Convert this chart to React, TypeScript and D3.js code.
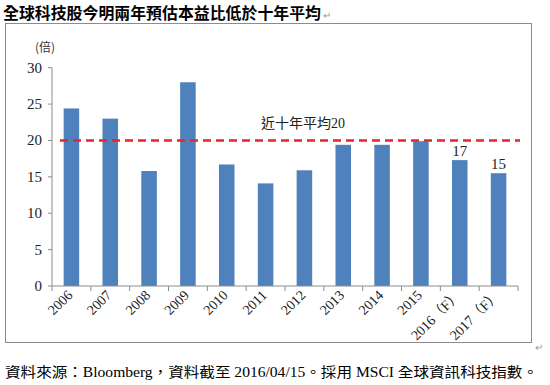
import * as d3 from "d3";

const years = ["2006", "2007", "2008", "2009", "2010", "2011", "2012", "2013", "2014", "2015", "2016（F）", "2017（F）"];
const peValues = [24.4, 23.0, 15.8, 28.0, 16.7, 14.1, 15.9, 19.4, 19.4, 19.9, 17.3, 15.5];
const yTicks = [0, 5, 10, 15, 20, 25, 30];
const avgValue = 20;
const barLabels = [{ year: "2016（F）", text: "17" }, { year: "2017（F）", text: "15" }];

const TITLE = "全球科技股今明兩年預估本益比低於十年平均";
const NOTE = "資料來源：Bloomberg，資料截至 2016/04/15。採用 MSCI 全球資訊科技指數。";

const W = 550, H = 385;
const M = { left: 52, right: 518, top: 67.7, bottom: 286 };
const serif = "'Liberation Serif', 'Noto Sans CJK TC', serif";
const cjk = "'Noto Sans CJK TC', sans-serif";

export default function App() {
  const x = d3.scaleBand().domain(years).range([M.left, M.right]).paddingInner(0.6).paddingOuter(0.3);
  const y = d3.scaleLinear().domain([0, 30]).range([M.bottom, M.top]);
  const bounds = d3.range(years.length + 1).map((i) => M.left + i * (M.right - M.left) / years.length);

  return (
    <svg width={W} height={H} style={{ position: "absolute", left: 0, top: 0 }}>
      <rect x={0} y={0} width={W} height={H} fill="#fff" />
      <text x={3} y={19} fontFamily={cjk} fontWeight="bold" fontSize={15.5} fill="#000" textLength={318} lengthAdjust="spacingAndGlyphs">{TITLE}</text>
      <text x={323} y={19} fontFamily={serif} fontSize={10} fill="#999">↵</text>
      <rect x={5.5} y={23.5} width={526} height={319} fill="none" stroke="#8c8c8c" />

      <text x={35} y={52} fontFamily={cjk} fontSize={12} fill="#333">(倍)</text>

      {/* y axis */}
      <line x1={M.left} x2={M.left} y1={y(30)} y2={y(0)} stroke="#8c8c8c" />
      {yTicks.map((t) => (
        <g key={t}>
          <line x1={M.left - 4} x2={M.left} y1={y(t)} y2={y(t)} stroke="#8c8c8c" />
          <text x={M.left - 10} y={y(t) + 5} textAnchor="end" fontFamily={serif} fontSize={15} fill="#222">{t}</text>
        </g>
      ))}

      {/* bars */}
      {years.map((yr, i) => (
        <rect key={yr} x={x(yr)!} width={x.bandwidth()} y={y(peValues[i])} height={y(0) - y(peValues[i])} fill="#4f81bd" />
      ))}

      {/* x axis */}
      <line x1={M.left} x2={M.right} y1={y(0)} y2={y(0)} stroke="#8c8c8c" />
      {bounds.map((b, i) => (
        <line key={i} x1={b} x2={b} y1={y(0)} y2={y(0) + 5} stroke="#8c8c8c" />
      ))}
      {years.map((yr) => {
        const cx = x(yr)! + x.bandwidth() / 2 + 2;
        return (
          <text key={yr} transform={`translate(${cx},${y(0) + 10}) rotate(-45)`} textAnchor="end" fontFamily={serif} fontSize={14} fill="#222">{yr}</text>
        );
      })}

      {/* average line */}
      <line x1={M.left + 8} x2={M.right + 2} y1={y(avgValue)} y2={y(avgValue)} stroke="#e3262b" strokeWidth={2.5} strokeDasharray="8,5" />
      <text x={261} y={128} fontFamily={serif} fontSize={14} fill="#222">近十年平均{avgValue}</text>

      {barLabels.map((d) => {
        const i = years.indexOf(d.year);
        return (
          <text key={d.year} x={x(d.year)! + x.bandwidth() / 2} y={y(peValues[i]) - 4} textAnchor="middle" fontFamily={serif} fontSize={15} fill="#222">{d.text}</text>
        );
      })}

      <text x={535} y={351} fontFamily={serif} fontSize={10} fill="#999">↵</text>
      <text x={5} y={377} fontFamily={serif} fontSize={14} fill="#000" textLength={533} lengthAdjust="spacingAndGlyphs">{NOTE}</text>
    </svg>
  );
}
